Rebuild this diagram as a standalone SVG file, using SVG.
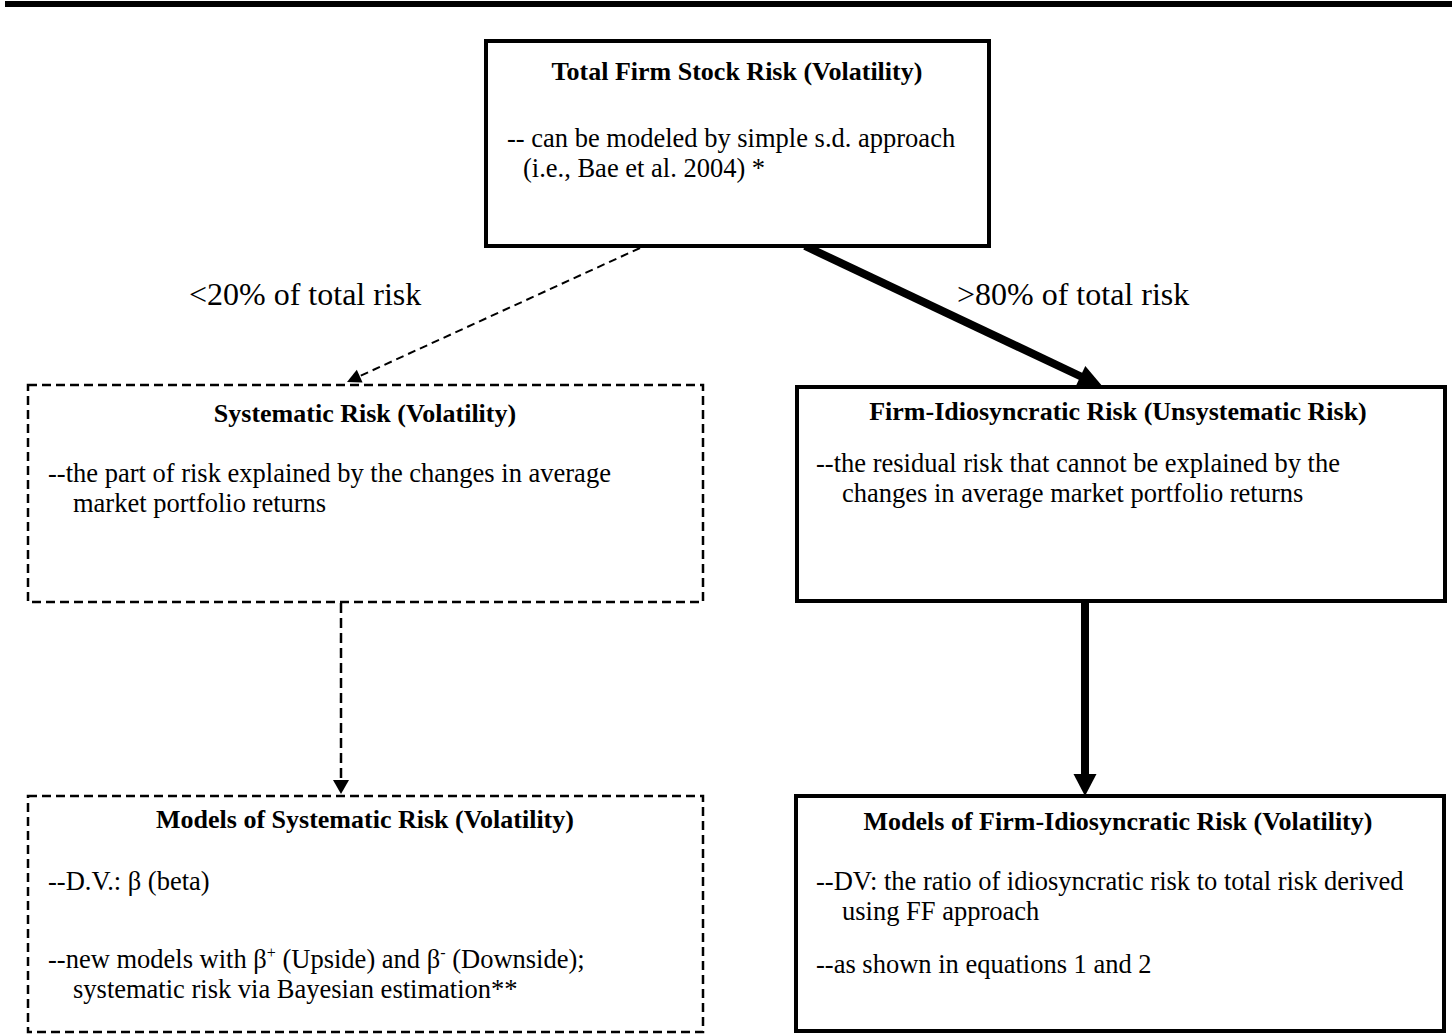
<svg xmlns="http://www.w3.org/2000/svg" width="1452" height="1036" viewBox="0 0 1452 1036">
<style>
text{font-family:"Liberation Serif","Times New Roman",serif;font-size:26.5px;fill:#000}
.t{font-weight:bold;text-anchor:middle;font-size:26px}
.lbl{font-size:32px}
.solid{fill:#fff;stroke:#000;stroke-width:4}
.dash{fill:#fff;stroke:#000;stroke-width:2.5;stroke-dasharray:9 5}
.sup{font-size:16px}
</style>
<rect x="5" y="1" width="1447" height="6" fill="#000"/>
<g id="connectors">
<line x1="640" y1="248" x2="360" y2="376" stroke="#000" stroke-width="2" stroke-dasharray="8 5"/>
<polygon points="347,382 356.8,369.8 362.6,382.6" fill="#000"/>
<line x1="805" y1="246" x2="1082" y2="377" stroke="#000" stroke-width="8"/>
<polygon points="1103,387 1075.5,386.7 1085.3,365.9" fill="#000"/>
<line x1="341" y1="603" x2="341" y2="782" stroke="#000" stroke-width="2.5" stroke-dasharray="10 5"/>
<polygon points="333,780 349,780 341,794" fill="#000"/>
<line x1="1085" y1="601" x2="1085" y2="776" stroke="#000" stroke-width="8"/>
<polygon points="1073.5,774 1096.5,774 1085,796" fill="#000"/>
<text class="lbl" x="189" y="305">&lt;20% of total risk</text>
<text class="lbl" x="957" y="305">&gt;80% of total risk</text>
</g>
<g id="total">
<rect class="solid" x="486" y="41" width="503" height="205"/>
<text class="t" x="737" y="80">Total Firm Stock Risk (Volatility)</text>
<text x="507" y="147">-- can be modeled by simple s.d. approach</text>
<text x="523" y="177">(i.e., Bae et al. 2004) *</text>
</g>
<g id="systematic">
<rect class="dash" x="28" y="385" width="675" height="217"/>
<text class="t" x="365" y="422">Systematic Risk (Volatility)</text>
<text x="48" y="482">--the part of risk explained by the changes in average</text>
<text x="73" y="512">market portfolio returns</text>
</g>
<g id="idiosyncratic">
<rect class="solid" x="797" y="387" width="648" height="214"/>
<text class="t" x="1118" y="420">Firm-Idiosyncratic Risk (Unsystematic Risk)</text>
<text x="816" y="472">--the residual risk that cannot be explained by the</text>
<text x="842" y="502">changes in average market portfolio returns</text>
</g>
<g id="models-systematic">
<rect class="dash" x="28" y="796" width="675" height="236"/>
<text class="t" x="365" y="828">Models of Systematic Risk (Volatility)</text>
<text x="48" y="890">--D.V.: β (beta)</text>
<text x="48" y="968">--new models with β<tspan class="sup" dy="-10">+</tspan><tspan dy="10"> (Upside) and β</tspan><tspan class="sup" dy="-10">-</tspan><tspan dy="10"> (Downside);</tspan></text>
<text x="73" y="998">systematic risk via Bayesian estimation**</text>
</g>
<g id="models-idiosyncratic">
<rect class="solid" x="796" y="796" width="648" height="235"/>
<text class="t" x="1118" y="830">Models of Firm-Idiosyncratic Risk (Volatility)</text>
<text x="816" y="890">--DV: the ratio of idiosyncratic risk to total risk derived</text>
<text x="842" y="920">using FF approach</text>
<text x="816" y="973">--as shown in equations 1 and 2</text>
</g>
</svg>
